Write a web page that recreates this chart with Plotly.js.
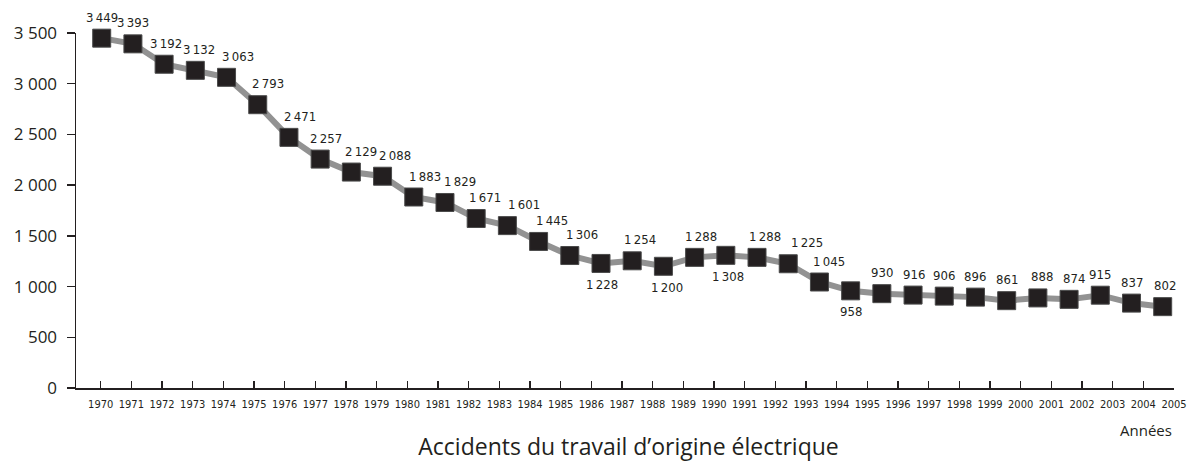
<!DOCTYPE html>
<html>
<head>
<meta charset="utf-8">
<script src="https://cdn.plot.ly/plotly-3.0.1.min.js"></script>
<style>
  html, body { margin: 0; padding: 0; background: #ffffff; }
  #chart { width: 1187px; height: 464px; }
</style>
</head>
<body>
<div id="chart"></div>
<script>
// ---- data ----
var years = [1970,1971,1972,1973,1974,1975,1976,1977,1978,1979,1980,1981,1982,1983,1984,1985,1986,1987,1988,1989,1990,1991,1992,1993,1994,1995,1996,1997,1998,1999,2000,2001,2002,2003,2004];
var accidents = [3449,3393,3192,3132,3063,2793,2471,2257,2129,2088,1883,1829,1671,1601,1445,1306,1228,1254,1200,1288,1308,1288,1225,1045,958,930,916,906,896,861,888,874,915,837,802];
var tickYears = [1970,1971,1972,1973,1974,1975,1976,1977,1978,1979,1980,1981,1982,1983,1984,1985,1986,1987,1988,1989,1990,1991,1992,1993,1994,1995,1996,1997,1998,1999,2000,2001,2002,2003,2004,2005];
var yTicks = [0,500,1000,1500,2000,2500,3000,3500];
// label placement: 'a' above, 'b' below
var labelSide = ['a','a','a','a','a','a','a','a','a','a','a','a','a','a','a','a','b','a','b','a','b','a','a','a','b','a','a','a','a','a','a','a','a','a','a'];
// horizontal nudge of value labels (px)
var labelNudge = [0,0,2,4,11,10,11,6,10,12,11,15,9,17,13,12,1,8,4,6,2,8,19,10,0,0,1,0,0,0,4,5,0,0,2];

var ink = '#231f20';
var narrow = '"DejaVu Sans Condensed", "Liberation Sans Narrow", "Arial Narrow", sans-serif';
function fmt(v) {
  return String(v).replace(/\B(?=(\d{3})+(?!\d))/g, '\u2009');
}

var trace = {
  x: years,
  y: accidents,
  xaxis: 'x2',
  yaxis: 'y',
  type: 'scatter',
  mode: 'lines+markers',
  line: { color: '#929292', width: 6 },
  marker: { symbol: 'square', size: 18, color: ink, line: { color: '#4a4a4a', width: 1 } },
  cliponaxis: false,
  hoverinfo: 'x+y'
};

// empty trace so that the tick axis (x) is drawn
var axisHolder = {
  x: [], y: [],
  xaxis: 'x', yaxis: 'y',
  type: 'scatter', mode: 'markers',
  hoverinfo: 'skip', showlegend: false
};

var annotations = years.map(function (yr, i) {
  var below = labelSide[i] === 'b';
  return {
    x: yr, y: accidents[i], xref: 'x2', yref: 'y',
    text: fmt(accidents[i]),
    showarrow: false,
    xanchor: 'center', yanchor: 'middle',
    xshift: labelNudge[i],
    yshift: below ? -21 : 21,
    font: { family: narrow, size: 13, color: ink }
  };
});

annotations.push({
  x: 1, y: -0.118, xref: 'paper', yref: 'paper',
  xanchor: 'right', yanchor: 'middle',
  text: 'Années', showarrow: false,
  font: { family: '"Open Sans", sans-serif', size: 15, color: ink }
});

var layout = {
  width: 1187,
  height: 464,
  margin: { l: 76, r: 13, t: 33, b: 76 },
  paper_bgcolor: '#ffffff',
  plot_bgcolor: '#ffffff',
  showlegend: false,
  separators: ', ',
  title: {
    text: 'Accidents du travail d\u2019origine électrique',
    font: { family: '"Open Sans", sans-serif', size: 23, color: ink },
    x: 0.5295, xref: 'container', xanchor: 'center',
    y: 0.036, yref: 'container', yanchor: 'middle'
  },
  xaxis: {
    range: [1969.195, 2005],
    tickmode: 'array',
    tickvals: tickYears,
    ticktext: tickYears.map(String),
    ticks: 'inside',
    ticklen: 7,
    tickwidth: 1.3,
    tickcolor: ink,
    showline: true,
    linecolor: ink,
    linewidth: 1.5,
    showgrid: false,
    zeroline: false,
    ticklabelstandoff: 5,
    ticklabeloverflow: 'allow',
    tickfont: { family: narrow, size: 11, color: ink },
    fixedrange: true
  },
  xaxis2: {
    overlaying: 'x',
    range: [1969.176, 2004.362],
    visible: false,
    showgrid: false,
    zeroline: false,
    fixedrange: true
  },
  yaxis: {
    range: [0, 3500],
    tickmode: 'array',
    tickvals: yTicks,
    tickformat: ',d',
    ticks: 'outside',
    ticklen: 8,
    tickwidth: 1.3,
    tickcolor: ink,
    showline: true,
    linecolor: ink,
    linewidth: 1.5,
    showgrid: false,
    zeroline: false,
    ticklabelstandoff: 6,
    tickfont: { family: '"Open Sans", sans-serif', size: 17, color: ink },
    fixedrange: true
  },
  annotations: annotations
};

Plotly.newPlot('chart', [axisHolder, trace], layout, { displayModeBar: false, staticPlot: true });
</script>
</body>
</html>
